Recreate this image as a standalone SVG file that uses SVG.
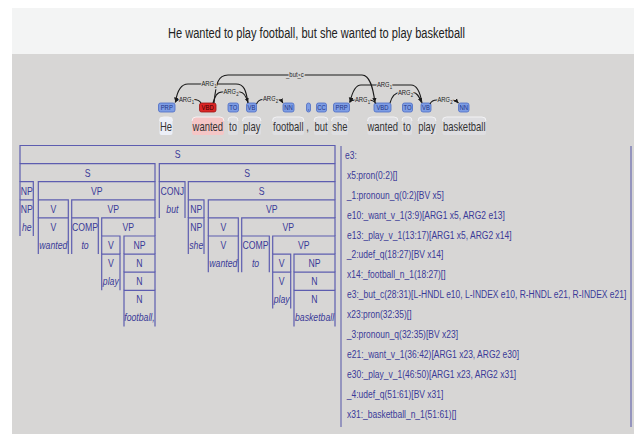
<svg xmlns="http://www.w3.org/2000/svg" width="634" height="434" viewBox="0 0 634 434">
<defs>
<marker id="ah" markerWidth="5" markerHeight="5" refX="4.5" refY="2.5" orient="auto" markerUnits="userSpaceOnUse"><path d="M0,0.3 L4.5,2.5 L0,4.7 z" fill="#1a1a1a"/></marker>
</defs>
<style>
.c{transform-box:fill-box;transform-origin:center;transform:scaleX(0.79)}
.l{transform-box:fill-box;transform-origin:0% 50%;transform:scaleX(0.772)}
.tree path{fill:none;stroke:#5d5db0;stroke-width:1.2}
.tt{font-family:"Liberation Sans",Arial,sans-serif;font-size:11px;fill:#3a3a98;text-anchor:middle}
.it{font-style:italic}
.mrs{font-family:"Liberation Sans",Arial,sans-serif;font-size:11px;fill:#3a3a98}
.tag rect{fill:#7e9de4;stroke:#4d6cc4;stroke-width:0.8}
.tag.sel rect{fill:#dc2626;stroke:#9b1111}
.tag text{font-family:"Liberation Sans",Arial,sans-serif;font-size:7.5px;fill:#1e3484;text-anchor:middle}
.tag.sel text{fill:#3a0000}
.word rect{fill:#dedee1}
.word path{fill:none;stroke:#f2f2f4;stroke-width:1}
.word text{font-family:"Liberation Sans",Arial,sans-serif;font-size:12px;fill:#333;text-anchor:middle}
.arc{fill:none;stroke:#1a1a1a;stroke-width:1.1;marker-end:url(#ah)}
.lab{font-family:"Liberation Sans",Arial,sans-serif;font-size:7.5px;fill:#222;text-anchor:middle;stroke:#d7d6d5;stroke-width:2.5;paint-order:stroke}
</style>
<rect x="0" y="0" width="634" height="434" fill="#ffffff"/>
<rect x="12" y="8" width="622" height="47" fill="#f3f4f4"/>
<rect x="12" y="54" width="622" height="380" fill="#d7d6d5"/>
<text x="316.5" y="38" text-anchor="middle" textLength="297" lengthAdjust="spacingAndGlyphs" font-family="Liberation Sans, Arial, sans-serif" font-size="14" fill="#222">He wanted to play football, but she wanted to play basketball</text>

<g id="words">
<g id="w-he" class="word"><rect x="159.5" y="117" width="13" height="18" rx="2" style="fill:#eceff7"/><path d="M159.5,121Q159.5,117 163.5,117H168.5Q172.5,117 172.5,121"/><text x="166" y="131" class="c">He</text></g>
<g id="w-wanted1" class="word"><rect x="192" y="117" width="32" height="18" rx="2" style="fill:#f4c6c6"/><path d="M192,121Q192,117 196,117H220Q224,117 224,121"/><text x="208" y="131" class="c">wanted</text></g>
<g id="w-to1" class="word"><rect x="228" y="117" width="10" height="18" rx="2"/><path d="M228,121Q228,117 231,117H235Q238,117 238,121"/><text x="233" y="131" class="c">to</text></g>
<g id="w-play1" class="word"><rect x="242.5" y="117" width="18.5" height="18" rx="2"/><path d="M242.5,121Q242.5,117 246.5,117H257Q261,117 261,121"/><text x="251.7" y="131" class="c">play</text></g>
<g id="w-football" class="word"><rect x="272.5" y="117" width="31.5" height="18" rx="2"/><path d="M272.5,121Q272.5,117 276.5,117H300Q304,117 304,121"/><text x="288.3" y="131" class="c">football</text></g>
<g id="w-comma" class="word"><text x="307.5" y="131" class="c">,</text></g>
<g id="w-but" class="word"><rect x="314" y="117" width="14" height="18" rx="2"/><path d="M314,121Q314,117 318,117H324Q328,117 328,121"/><text x="321" y="131" class="c">but</text></g>
<g id="w-she" class="word"><rect x="331.5" y="117" width="16.5" height="18" rx="2"/><path d="M331.5,121Q331.5,117 335.5,117H344Q348,117 348,121"/><text x="340" y="131" class="c">she</text></g>
<g id="w-wanted2" class="word"><rect x="367.5" y="117" width="30.5" height="18" rx="2"/><path d="M367.5,121Q367.5,117 371.5,117H394Q398,117 398,121"/><text x="382.8" y="131" class="c">wanted</text></g>
<g id="w-to2" class="word"><rect x="402" y="117" width="10" height="18" rx="2"/><path d="M402,121Q402,117 405,117H409Q412,117 412,121"/><text x="407" y="131" class="c">to</text></g>
<g id="w-play2" class="word"><rect x="418" y="117" width="18" height="18" rx="2"/><path d="M418,121Q418,117 422,117H432Q436,117 436,121"/><text x="426.8" y="131" class="c">play</text></g>
<g id="w-basketball" class="word"><rect x="442.5" y="117" width="43.5" height="18" rx="2"/><path d="M442.5,121Q442.5,117 446.5,117H482Q486,117 486,121"/><text x="464.2" y="131" class="c">basketball</text></g>
</g>

<g id="tags">
<g id="t-prp1" class="tag"><rect x="158.5" y="103" width="16.5" height="9" rx="2"/><text x="166.7" y="110.5" class="c">PRP</text></g>
<g id="t-vbd1" class="tag sel"><rect x="199.5" y="103" width="16.5" height="9" rx="2"/><text x="207.7" y="110.5" class="c">VBD</text></g>
<g id="t-to1" class="tag"><rect x="228" y="103" width="10.5" height="9" rx="2"/><text x="233.2" y="110.5" class="c">TO</text></g>
<g id="t-vb1" class="tag"><rect x="246.5" y="103" width="10" height="9" rx="2"/><text x="251.5" y="110.5" class="c">VB</text></g>
<g id="t-nn1" class="tag"><rect x="283" y="103" width="11" height="9" rx="2"/><text x="288.5" y="110.5" class="c">NN</text></g>
<g id="t-comma" class="tag"><rect x="306.5" y="103" width="4" height="9" rx="2"/><text x="308.5" y="110.5" class="c">,</text></g>
<g id="t-cc" class="tag"><rect x="316.5" y="103" width="10" height="9" rx="2"/><text x="321.5" y="110.5" class="c">CC</text></g>
<g id="t-prp2" class="tag"><rect x="333.5" y="103" width="16" height="9" rx="2"/><text x="341.5" y="110.5" class="c">PRP</text></g>
<g id="t-vbd2" class="tag"><rect x="374" y="103" width="17" height="9" rx="2"/><text x="382.5" y="110.5" class="c">VBD</text></g>
<g id="t-to2" class="tag"><rect x="402.5" y="103" width="10" height="9" rx="2"/><text x="407.5" y="110.5" class="c">TO</text></g>
<g id="t-vb2" class="tag"><rect x="421" y="103" width="10" height="9" rx="2"/><text x="426" y="110.5" class="c">VB</text></g>
<g id="t-nn2" class="tag"><rect x="458.5" y="103" width="10.5" height="9" rx="2"/><text x="463.7" y="110.5" class="c">NN</text></g>
</g>

<g id="connectors">
<path class="arc" d="M214,103 C216,83 218,75 228,75 L362,75 C370,75 373,88 375,102.5"/>
<path class="arc" d="M248,103 C246,90 244,84 236,84 L188,84 C181,84 177,92 175.5,102"/>
<path class="arc" d="M201,103 C199,100 197,99.5 194,99.5 L181,99.5 C178,99.5 176,100.5 175,102.5"/>
<path class="arc" d="M213,103 C215,96 217,92 222,92 L240,92 C244,92 246,96 248,102.5"/>
<path class="arc" d="M256.5,104 C258,100.5 260,99.5 263,99.5 L278,99.5 C280,99.5 281.5,100.5 283,103"/>
<path class="arc" d="M422,103 C420,91 417,85 411,85 L361,85 C355,85 352,93 350,102"/>
<path class="arc" d="M376,103.5 C374,101 372,100 369,100 L355,100 C352,100 350.5,101 349.5,102.5"/>
<path class="arc" d="M390,103 C392,96 395,92.5 400,92.5 L413,92.5 C417,92.5 419,96 421.5,102.5"/>
<path class="arc" d="M430,104 C431.5,100.5 434,100 437,100 L452,100 C455,100 456.5,101 458.5,103"/>
<text class="lab c" x="295" y="77.5">_but_c</text>
<text class="lab c" x="209" y="86.5">ARG<tspan font-size="5.5" dy="2">1</tspan></text>
<text class="lab c" x="186.5" y="102">ARG<tspan font-size="5.5" dy="2">1</tspan></text>
<text class="lab c" x="231" y="94.5">ARG<tspan font-size="5.5" dy="2">2</tspan></text>
<text class="lab c" x="270.5" y="101.5">ARG<tspan font-size="5.5" dy="2">2</tspan></text>
<text class="lab c" x="384.5" y="87">ARG<tspan font-size="5.5" dy="2">1</tspan></text>
<text class="lab c" x="362.5" y="102.5">ARG<tspan font-size="5.5" dy="2">1</tspan></text>
<text class="lab c" x="405.5" y="95">ARG<tspan font-size="5.5" dy="2">2</tspan></text>
<text class="lab c" x="445" y="102">ARG<tspan font-size="5.5" dy="2">2</tspan></text>
</g>

<g class="tree">
<g id="n-root"><path d="M20,163.6V145.5H335V163.6"/><text class="tt c" x="177.5" y="158.5">S</text></g>
<g id="n-s1"><path d="M20,181.7V163.6H155V181.7"/><text class="tt c" x="87.5" y="176.6">S</text></g>
<g id="n-s2"><path d="M159.3,181.7V163.6H335V181.7"/><text class="tt c" x="247" y="176.6">S</text></g>
<g id="n-np1"><path d="M20,199.8V181.7H33.3V199.8"/><text class="tt c" x="26.7" y="194.7">NP</text></g>
<g id="n-np2"><path d="M20,236V199.8H33.3V236"/><text class="tt c" x="26.7" y="212.8">NP</text><text class="tt it c" x="26.7" y="230.9">he</text></g>
<g id="n-vp1"><path d="M38.3,199.8V181.7H155V199.8"/><text class="tt c" x="96.7" y="194.7">VP</text></g>
<g id="n-v1"><path d="M38.3,217.9V199.8H68.3V217.9"/><text class="tt c" x="53.3" y="212.8">V</text></g>
<g id="n-v2"><path d="M38.3,254.1V217.9H68.3V254.1"/><text class="tt c" x="53.3" y="230.9">V</text><text class="tt it c" x="53.3" y="249">wanted</text></g>
<g id="n-vp2"><path d="M71.7,217.9V199.8H155V217.9"/><text class="tt c" x="113.3" y="212.8">VP</text></g>
<g id="n-comp1"><path d="M71.7,254.1V217.9H98.3V254.1"/><text class="tt c" x="85" y="230.9">COMP</text><text class="tt it c" x="85" y="249">to</text></g>
<g id="n-vp3"><path d="M101.7,236V217.9H155V236"/><text class="tt c" x="128.3" y="230.9">VP</text></g>
<g id="n-v3"><path d="M101.7,254.1V236H120V254.1"/><text class="tt c" x="110.8" y="249">V</text></g>
<g id="n-v4"><path d="M101.7,290.3V254.1H120V290.3"/><text class="tt c" x="110.8" y="267.1">V</text><text class="tt it c" x="110.8" y="285.2">play</text></g>
<g id="n-np3"><path d="M124,254.1V236H155V254.1"/><text class="tt c" x="139.5" y="249">NP</text></g>
<g id="n-n1"><path d="M124,272.2V254.1H155V272.2"/><text class="tt c" x="139.5" y="267.1">N</text></g>
<g id="n-n2"><path d="M124,290.3V272.2H155V290.3"/><text class="tt c" x="139.5" y="285.2">N</text></g>
<g id="n-n3"><path d="M124,326.5V290.3H155V326.5"/><text class="tt c" x="139.5" y="303.3">N</text><text class="tt it c" x="139.5" y="321.4">football,</text></g>
<g id="n-conj"><path d="M159.3,217.9V181.7H185V217.9"/><text class="tt c" x="172.2" y="194.7">CONJ</text><text class="tt it c" x="172.2" y="212.8">but</text></g>
<g id="n-s3"><path d="M188.3,199.8V181.7H335V199.8"/><text class="tt c" x="261.7" y="194.7">S</text></g>
<g id="n-np4"><path d="M188.3,217.9V199.8H204V217.9"/><text class="tt c" x="196.2" y="212.8">NP</text></g>
<g id="n-np5"><path d="M188.3,254.1V217.9H204V254.1"/><text class="tt c" x="196.2" y="230.9">NP</text><text class="tt it c" x="196.2" y="249">she</text></g>
<g id="n-vp4"><path d="M208.3,217.9V199.8H335V217.9"/><text class="tt c" x="271.7" y="212.8">VP</text></g>
<g id="n-v5"><path d="M208.3,236V217.9H238.3V236"/><text class="tt c" x="223.3" y="230.9">V</text></g>
<g id="n-v6"><path d="M208.3,272.2V236H238.3V272.2"/><text class="tt c" x="223.3" y="249">V</text><text class="tt it c" x="223.3" y="267.1">wanted</text></g>
<g id="n-vp5"><path d="M241.7,236V217.9H335V236"/><text class="tt c" x="288.3" y="230.9">VP</text></g>
<g id="n-comp2"><path d="M241.7,272.2V236H269.3V272.2"/><text class="tt c" x="255.5" y="249">COMP</text><text class="tt it c" x="255.5" y="267.1">to</text></g>
<g id="n-vp6"><path d="M272.7,254.1V236H335V254.1"/><text class="tt c" x="303.8" y="249">VP</text></g>
<g id="n-v7"><path d="M272.7,272.2V254.1H290.7V272.2"/><text class="tt c" x="281.7" y="267.1">V</text></g>
<g id="n-v8"><path d="M272.7,308.4V272.2H290.7V308.4"/><text class="tt c" x="281.7" y="285.2">V</text><text class="tt it c" x="281.7" y="303.3">play</text></g>
<g id="n-np6"><path d="M294,272.2V254.1H335V272.2"/><text class="tt c" x="314.5" y="267.1">NP</text></g>
<g id="n-n4"><path d="M294,290.3V272.2H335V290.3"/><text class="tt c" x="314.5" y="285.2">N</text></g>
<g id="n-n5"><path d="M294,326.5V290.3H335V326.5"/><text class="tt c" x="314.5" y="303.3">N</text><text class="tt it c" x="314.5" y="321.4">basketball</text></g>
</g>

<g id="mrs">
<path d="M341,146V427M631,146V427" fill="none" stroke="#6a6ab0" stroke-width="1.2"/>
<text class="mrs l" x="345" y="159">e3:</text>
<text class="mrs l" x="347" y="178.9">x5:pron(0:2)[]</text>
<text class="mrs l" x="347" y="198.8">_1:pronoun_q(0:2)[BV x5]</text>
<text class="mrs l" x="347" y="218.7">e10:_want_v_1(3:9)[ARG1 x5, ARG2 e13]</text>
<text class="mrs l" x="347" y="238.6">e13:_play_v_1(13:17)[ARG1 x5, ARG2 x14]</text>
<text class="mrs l" x="347" y="258.5">_2:udef_q(18:27)[BV x14]</text>
<text class="mrs l" x="347" y="278.4">x14:_football_n_1(18:27)[]</text>
<text class="mrs l" x="347" y="298.3">e3:_but_c(28:31)[L-HNDL e10, L-INDEX e10, R-HNDL e21, R-INDEX e21]</text>
<text class="mrs l" x="347" y="318.2">x23:pron(32:35)[]</text>
<text class="mrs l" x="347" y="338.1">_3:pronoun_q(32:35)[BV x23]</text>
<text class="mrs l" x="347" y="358">e21:_want_v_1(36:42)[ARG1 x23, ARG2 e30]</text>
<text class="mrs l" x="347" y="377.9">e30:_play_v_1(46:50)[ARG1 x23, ARG2 x31]</text>
<text class="mrs l" x="347" y="397.8">_4:udef_q(51:61)[BV x31]</text>
<text class="mrs l" x="347" y="417.7">x31:_basketball_n_1(51:61)[]</text>
</g>
</svg>
